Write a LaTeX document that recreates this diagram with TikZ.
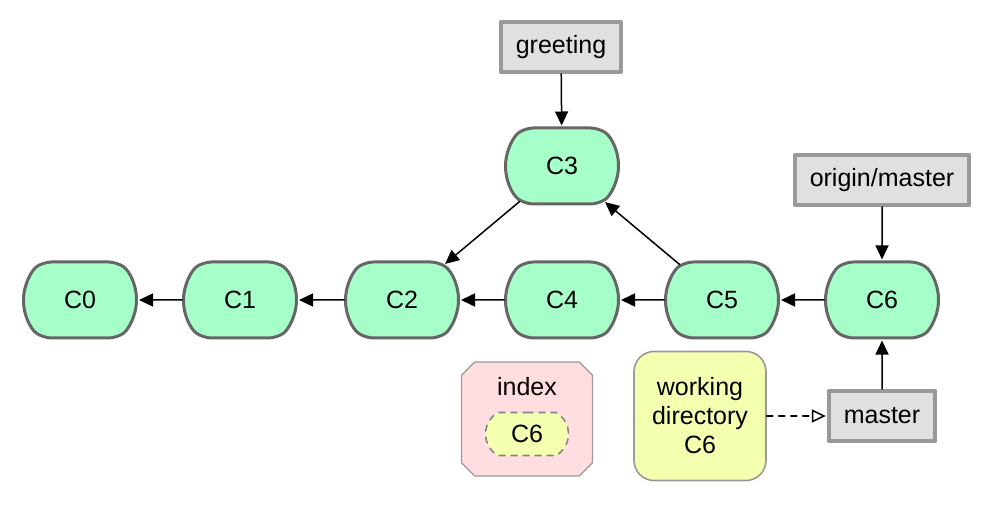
\documentclass[tikz,border=0pt]{standalone}
\usepackage{fontspec}
\setmainfont{Liberation Sans}
\usetikzlibrary{shapes.misc,arrows.meta}

\definecolor{commitfill}{RGB}{166,255,200}
\definecolor{commitline}{RGB}{102,102,102}
\definecolor{branchfill}{RGB}{224,224,224}
\definecolor{branchline}{RGB}{153,153,153}
\definecolor{indexfill}{RGB}{255,221,224}
\definecolor{workfill}{RGB}{245,255,176}

\begin{document}
\begin{tikzpicture}[x=0.5pt,y=-0.5pt,line cap=round,line join=round,
  every node/.style={font=\fontsize{12.5}{14.5}\selectfont},
  commit/.style={rounded rectangle,rounded rectangle arc length=110,draw=commitline,
    fill=commitfill,line width=1.5pt,minimum width=56.5pt,minimum height=38pt,inner sep=0pt,
    rounded corners=4pt},
  branch/.style={rectangle,draw=branchline,fill=branchfill,line width=2pt,
    minimum height=25pt,inner xsep=7.5pt},
  link/.style={-{Triangle[length=7pt,width=6.5pt]},line width=0.75pt,shorten >=0.5pt}]
  \useasboundingbox (0,0) rectangle (995,506);
  % commits
  \node[commit] (C0) at (80,300) {C0};
  \node[commit] (C1) at (240,300) {C1};
  \node[commit] (C2) at (402,300) {C2};
  \node[commit] (C3) at (562,166) {C3};
  \node[commit] (C4) at (562,300) {C4};
  \node[commit] (C5) at (722,300) {C5};
  \node[commit] (C6) at (882,300) {C6};
  % branches
  \node[branch] (greeting) at (561,47) {greeting};
  \node[branch] (originmaster) at (882,180) {origin/master};
  \node[branch] (master) at (882,416) {master};
  % index and working directory
  \node[chamfered rectangle,chamfered rectangle xsep=10pt,chamfered rectangle ysep=10pt,
    draw=branchline,fill=indexfill,line width=0.6pt,minimum width=65.5pt,minimum height=57pt]
    (index) at (527,419) {};
  \node (indexlabel) at (527,387) {index};
  \node[rounded rectangle,rounded rectangle arc length=120,draw=commitline!80,dashed,
    fill=workfill,line width=0.8pt,minimum width=41.5pt,minimum height=21.5pt,inner sep=0pt]
    (staged) at (527,434) {C6};
  \node[rectangle,rounded corners=10pt,draw=branchline,fill=workfill,line width=0.8pt,
    minimum width=66pt,minimum height=64.5pt,align=center] (workdir) at (700,416)
    {working\\directory\\C6};
  % parents
  \draw[link] (C1) -- (C0);
  \draw[link] (C2) -- (C1);
  \draw[link] (C4) -- (C2);
  \draw[link] (C5) -- (C4);
  \draw[link] (C6) -- (C5);
  \draw[link] (C3) -- (C2);
  \draw[link] (C5) -- (C3);
  % refs
  \draw[link] (greeting) -- (C3);
  \draw[link] (originmaster) -- (C6);
  \draw[link] (master) -- (C6);
  \draw[dashed,line width=0.75pt,-{Triangle[open,length=7pt,width=6.5pt]},shorten >=0.5pt]
    (workdir) -- (master);
\end{tikzpicture}
\end{document}
